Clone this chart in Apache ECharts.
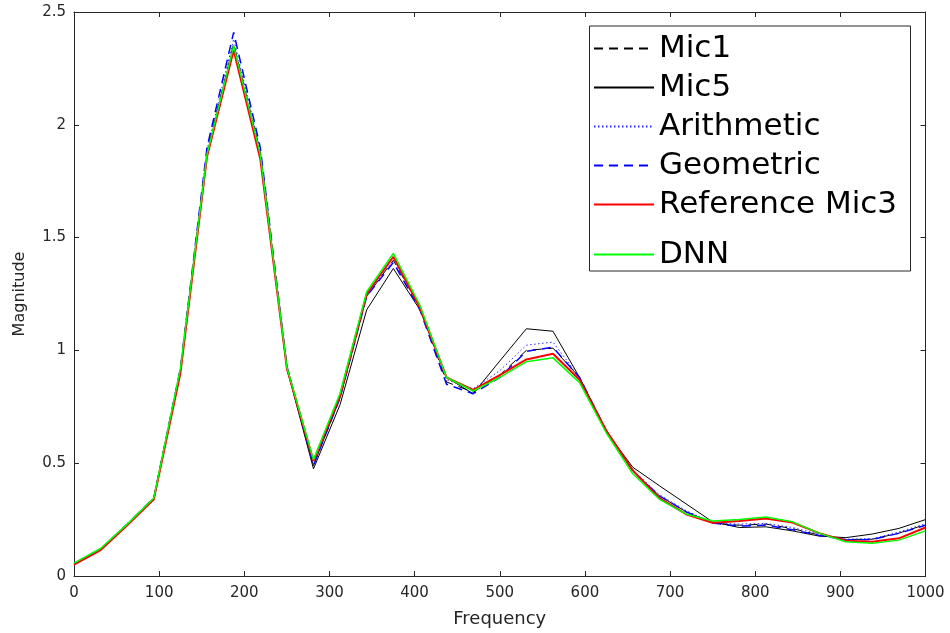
<!DOCTYPE html>
<html>
<head>
<meta charset="utf-8">
<script src="https://cdn.jsdelivr.net/npm/echarts@6/dist/echarts.min.js"></script>
<style>html,body{margin:0;padding:0;background:#fff;}#c{width:950px;height:633px;}</style>
</head>
<body>
<div id="c"></div>
<script>
const freq = [0, 31.25, 62.5, 93.75, 125, 156.25, 187.5, 218.75, 250, 281.25, 312.5, 343.75, 375, 406.25, 437.5, 468.75, 500, 531.25, 562.5, 593.75, 625, 656.25, 687.5, 718.75, 750, 781.25, 812.5, 843.75, 875, 906.25, 937.5, 968.75, 1000];
const mic1 = [0.055, 0.12, 0.23, 0.346, 0.92, 1.88, 2.36, 1.88, 0.93, 0.49, 0.79, 1.24, 1.40, 1.19, 0.86, 0.815, 0.89, 1.00, 1.01, 0.88, 0.645, 0.465, 0.355, 0.285, 0.235, 0.225, 0.23, 0.21, 0.182, 0.162, 0.163, 0.19, 0.228];
const mic5 = [0.055, 0.12, 0.23, 0.345, 0.91, 1.87, 2.35, 1.86, 0.92, 0.475, 0.76, 1.18, 1.363, 1.18, 0.88, 0.808, 0.953, 1.096, 1.085, 0.88, 0.64, 0.482, 0.40, 0.32, 0.24, 0.215, 0.218, 0.20, 0.177, 0.17, 0.186, 0.211, 0.25];
const arithmetic = [0.055, 0.12, 0.23, 0.346, 0.92, 1.89, 2.38, 1.89, 0.93, 0.49, 0.79, 1.245, 1.40, 1.19, 0.87, 0.83, 0.91, 1.023, 1.037, 0.88, 0.645, 0.47, 0.36, 0.29, 0.235, 0.23, 0.233, 0.215, 0.185, 0.163, 0.165, 0.195, 0.232];
const geometric = [0.055, 0.12, 0.23, 0.346, 0.92, 1.90, 2.41, 1.90, 0.93, 0.49, 0.79, 1.24, 1.39, 1.18, 0.85, 0.808, 0.88, 0.996, 1.014, 0.88, 0.645, 0.465, 0.355, 0.285, 0.235, 0.221, 0.226, 0.205, 0.18, 0.16, 0.162, 0.189, 0.225];
const refMic3 = [0.05, 0.115, 0.225, 0.34, 0.90, 1.86, 2.33, 1.85, 0.92, 0.51, 0.80, 1.25, 1.415, 1.19, 0.88, 0.825, 0.89, 0.96, 0.985, 0.87, 0.645, 0.468, 0.345, 0.274, 0.236, 0.244, 0.255, 0.237, 0.19, 0.156, 0.152, 0.167, 0.215];
const dnn = [0.057, 0.122, 0.23, 0.346, 0.92, 1.87, 2.35, 1.87, 0.925, 0.515, 0.81, 1.26, 1.43, 1.20, 0.88, 0.82, 0.88, 0.95, 0.967, 0.857, 0.635, 0.453, 0.34, 0.275, 0.244, 0.25, 0.262, 0.24, 0.19, 0.152, 0.145, 0.159, 0.2];
const seriesNames = ['Mic1', 'Mic5', 'Arithmetic', 'Geometric', 'Reference Mic3', 'DNN'];

const pairs = arr => freq.map((f, i) => [f, arr[i]]);
const axisColor = '#262626';
const font = 'DejaVu Sans';

const styles = [
  {color: '#000000', width: 1, type: [9, 6]},
  {color: '#000000', width: 1, type: 'solid'},
  {color: '#2a2aff', width: 1, type: [1.5, 2.5]},
  {color: '#0000ff', width: 1.5, type: [9, 6]},
  {color: '#ff0000', width: 2, type: 'solid'},
  {color: '#00ff00', width: 1.5, type: 'solid'}
];
const dataSets = [mic1, mic5, arithmetic, geometric, refMic3, dnn];

const chart = echarts.init(document.getElementById('c'), null, {renderer: 'canvas'});
const xCommon = {
  type: 'value', min: 0, max: 1000, interval: 100,
  splitLine: {show: false},
  axisLine: {show: true, onZero: false, lineStyle: {color: axisColor, width: 1}},
  axisTick: {show: true, inside: true, length: 5, lineStyle: {color: axisColor}}
};
const yCommon = {
  type: 'value', min: 0, max: 2.5, interval: 0.5,
  splitLine: {show: false},
  axisLine: {show: true, onZero: false, lineStyle: {color: axisColor, width: 1}},
  axisTick: {show: true, inside: true, length: 5, lineStyle: {color: axisColor}}
};
const legendCommon = {
  orient: 'vertical', left: 593, padding: 0,
  itemWidth: 60, itemHeight: 14, itemTextGap: 5,
  itemStyle: {opacity: 0},
  textStyle: {fontFamily: font, fontSize: 31, lineHeight: 30, color: '#000'},
  selectedMode: false
};

chart.setOption({
  animation: false,
  backgroundColor: '#ffffff',
  grid: {left: 74, right: 24.5, top: 12, bottom: 53.5, containLabel: false},
  xAxis: [
    Object.assign({}, xCommon, {
      position: 'bottom',
      name: 'Frequency', nameLocation: 'middle', nameGap: 34,
      nameTextStyle: {fontFamily: font, fontSize: 18, color: axisColor},
      axisLabel: {fontFamily: font, fontSize: 15, color: axisColor, margin: 10, formatter: v => String(v)}
    }),
    Object.assign({}, xCommon, {position: 'top', axisLabel: {show: false}})
  ],
  yAxis: [
    Object.assign({}, yCommon, {
      position: 'left',
      name: 'Magnitude', nameLocation: 'middle', nameGap: 46,
      nameTextStyle: {fontFamily: font, fontSize: 16, color: axisColor},
      axisLabel: {fontFamily: font, fontSize: 15, color: axisColor, margin: 8}
    }),
    Object.assign({}, yCommon, {position: 'right', axisLabel: {show: false}})
  ],
  legend: [
    Object.assign({}, legendCommon, {data: seriesNames.slice(0, 5), top: 33, itemGap: 8}),
    Object.assign({}, legendCommon, {data: seriesNames.slice(5), top: 239})
  ],
  graphic: [{
    type: 'rect', left: 589, top: 25.5, z: 3,
    shape: {width: 321, height: 245},
    style: {fill: '#ffffff', stroke: axisColor, lineWidth: 1}
  }],
  series: dataSets.map((d, i) => ({
    name: seriesNames[i], type: 'line', data: pairs(d),
    symbol: 'none', showSymbol: false, smooth: false,
    lineStyle: styles[i], itemStyle: {color: styles[i].color},
    z: 2 + i * 0.1
  }))
});
</script>
</body>
</html>
